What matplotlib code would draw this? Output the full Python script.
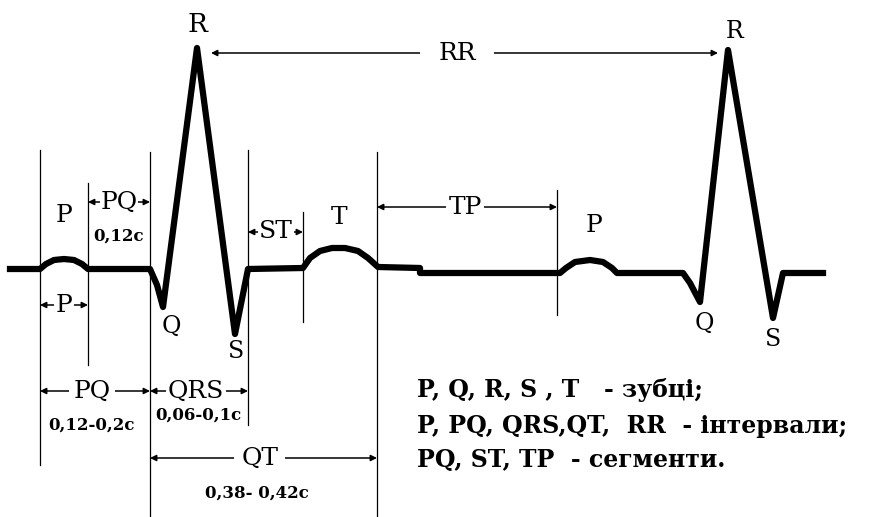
import matplotlib.pyplot as plt

# ECG trace in pixel coordinates (y grows downward)
trace_x = [10, 40, 46, 54, 64, 74, 82, 88, 150, 157, 163, 197, 235, 248,
           303, 310, 320, 332, 345, 358, 368, 378, 420, 420,
           560, 566, 575, 590, 603, 612, 617, 683, 690, 700, 728, 773, 783, 823]
trace_y = [269, 269, 264, 260, 259, 260, 264, 269, 269, 285, 307, 48, 334, 269,
           268, 258, 251, 248, 248, 251, 258, 267, 268, 273,
           273, 268, 262, 260, 262, 268, 273, 273, 283, 302, 50, 318, 273, 273]

# thin vertical markers: x, top, bottom
marker_x = [40, 88, 150, 248, 303, 377, 557]
marker_top = [150, 183, 152, 150, 212, 152, 190]
marker_bottom = [465, 365, 517, 425, 322, 517, 315]

# double arrows: label, left, right, y, label x
arrow_labels = ["PQ", "ST", "TP", "P", "PQ", "QRS", "QT", "RR"]
arrow_left = [88, 248, 377, 40, 40, 150, 150, 211]
arrow_right = [150, 303, 557, 88, 150, 248, 377, 718]
arrow_y = [202, 232, 207, 305, 391, 391, 458, 53]
arrow_label_x = [119, 276, 465, 64, 92, 196, 260, 457]
arrow_gap = [0.5, 1, 2, 1, 3, 1, 5, 13]

# wave names
wave_labels = ["R", "R", "P", "T", "P", "Q", "S", "Q", "S"]
wave_x = [197, 735, 64, 339, 594, 171, 236, 704, 773]
wave_y = [25, 31, 215, 217, 226, 326, 352, 323, 340]
wave_size = [19, 17, 18, 18, 18, 17, 17, 17, 17]

# durations
dur_labels = ["0,12c", "0,12-0,2c", "0,06-0,1c", "0,38- 0,42c"]
dur_x = [119, 92, 198, 257]
dur_y = [236, 425, 415, 493]

legend_lines = [
    "P, Q, R, S , T   - зубці;",
    "P, PQ, QRS,QT,  RR  - інтервали;",
    "PQ, ST, TP  - сегменти.",
]
legend_baselines = [397, 433, 467]

plt.rcParams["font.family"] = ["DejaVu Serif"]

fig = plt.figure(figsize=(8.7, 5.17), dpi=100)
ax = fig.add_axes([0, 0, 1, 1])
ax.set_xlim(0, 870)
ax.set_ylim(517, 0)
ax.axis("off")

ax.plot(trace_x, trace_y, color="black", linewidth=4.5, zorder=4)

for x, top, bot in zip(marker_x, marker_top, marker_bottom):
    ax.plot([x, x], [top, bot], color="black", linewidth=0.9, zorder=2)

for lab, x0, x1, y, lx, gap in zip(arrow_labels, arrow_left, arrow_right,
                                   arrow_y, arrow_label_x, arrow_gap):
    ax.annotate("", xy=(x1, y), xytext=(x0, y),
                arrowprops=dict(arrowstyle="<|-|>", color="black", lw=1.1,
                                shrinkA=0, shrinkB=0, mutation_scale=9),
                zorder=3)
    ax.text(lx, y, lab, ha="center", va="center", fontsize=18, zorder=5,
            bbox=dict(facecolor="white", edgecolor="none", pad=gap))

for lab, x, y, s in zip(wave_labels, wave_x, wave_y, wave_size):
    ax.text(x, y, lab, ha="center", va="center", fontsize=s, zorder=5)

for lab, x, y in zip(dur_labels, dur_x, dur_y):
    ax.text(x, y, lab, ha="center", va="center", fontsize=12,
            fontweight="bold", zorder=5)

for line, yb in zip(legend_lines, legend_baselines):
    ax.text(417, yb, line, ha="left", va="baseline", fontsize=17,
            fontweight="bold")

fig.savefig("out.png", dpi=100)
